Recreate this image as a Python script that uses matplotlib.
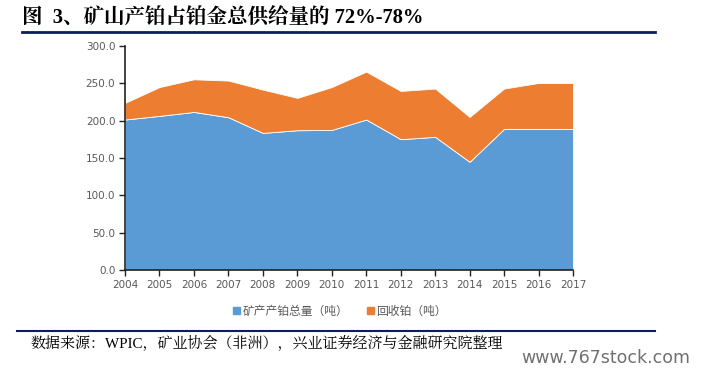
import matplotlib.pyplot as plt
from matplotlib.lines import Line2D
from matplotlib.patches import Patch
import numpy as np

# 年份与数据（吨）
years = [2004, 2005, 2006, 2007, 2008, 2009, 2010, 2011, 2012, 2013, 2014, 2015, 2016, 2017]
mine_supply = [201.5, 206.4, 211.7, 204.6, 183.6, 187.2, 187.6, 201.5, 175.2, 178.3, 144.9, 189.0, 189.0, 189.0]
recycled = [22.3, 38.6, 43.7, 49.1, 58.0, 43.3, 57.4, 64.2, 64.6, 64.7, 60.1, 54.0, 61.5, 61.5]
y_ticks = [0, 50, 100, 150, 200, 250, 300]

title = "图  3、矿山产铂占铂金总供给量的 72%-78%"
legend_labels = ["矿产产铂总量（吨）", "回收铂（吨）"]
source = "数据来源：WPIC，矿业协会（非洲），兴业证券经济与金融研究院整理"

blue = "#5B9BD5"
orange = "#ED7D31"
navy = "#0A1F5C"
gray = "#595959"
serif_cjk = ['Liberation Serif', 'Noto Serif CJK SC', 'Noto Sans CJK SC']

plt.rcParams['font.family'] = ['Noto Sans CJK SC', 'DejaVu Sans']

fig = plt.figure(figsize=(7.01, 3.76), dpi=100)
ax = fig.add_axes([125 / 701, 1 - 270 / 376, 448 / 701, 224 / 376])

ax.stackplot(years, mine_supply, recycled, colors=[blue, orange],
             edgecolor="white", linewidth=0.6)
ax.set_xlim(years[0], years[-1])
ax.set_ylim(0, 300)
ax.set_xticks(years)
ax.set_xticklabels([str(y) for y in years], family="DejaVu Sans", fontsize=7.5, color=gray)
ax.set_yticks(y_ticks)
ax.set_yticklabels([f"{v:.1f}" for v in y_ticks], family="DejaVu Sans", fontsize=7.5, color=gray)
ax.tick_params(axis="both", direction="out", length=4, width=1, color="#222222", pad=3)
for s in ["top", "right"]:
    ax.spines[s].set_visible(False)
for s in ["left", "bottom"]:
    ax.spines[s].set_color("#222222")
    ax.spines[s].set_linewidth(1.2)

handles = [Patch(color=blue), Patch(color=orange)]
fig.legend(handles, legend_labels, loc="center", bbox_to_anchor=(340 / 701, 1 - 311 / 376),
           ncol=2, frameon=False, fontsize=8.5, handlelength=0.6, handleheight=0.6,
           handletextpad=0.2, columnspacing=1.6, labelcolor=gray)

# 标题与横线
fig.text(22 / 701, 1 - 18 / 376, title, fontsize=14.8, fontweight="bold",
         ha="left", va="center", color="black", family=serif_cjk)
fig.add_artist(Line2D([22 / 701, 655 / 701], [1 - 32 / 376, 1 - 32 / 376],
                      color=navy, linewidth=2))
fig.add_artist(Line2D([17 / 701, 655 / 701], [1 - 331 / 376, 1 - 331 / 376],
                      color=navy, linewidth=1.5))
fig.text(30 / 701, 1 - 343 / 376, source, fontsize=10.8, ha="left", va="center",
         color="black", family=serif_cjk)
fig.text(690 / 701, 1 - 358 / 376, "www.767stock.com", fontsize=12.5, ha="right",
         va="center", color="#707070", family="DejaVu Sans")

fig.savefig("out.png", dpi=100)
